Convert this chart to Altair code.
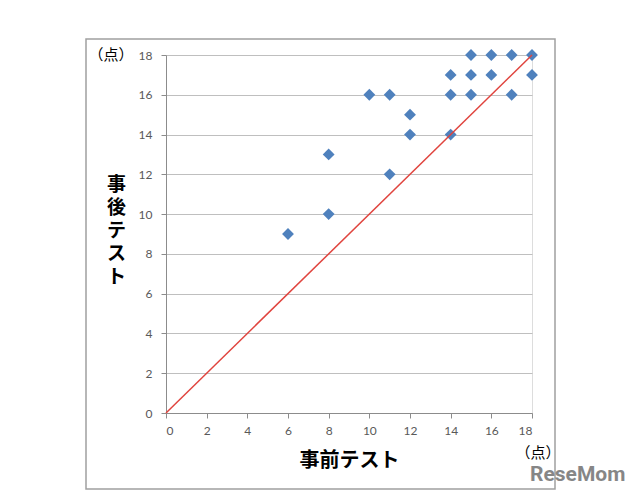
import altair as alt
import pandas as pd

# Data
pre_scores = [6, 8, 8, 10, 11, 11, 12, 12, 14, 14, 14, 15, 15, 15, 16, 16, 17, 17, 18, 18]
post_scores = [9, 13, 10, 16, 16, 12, 15, 14, 17, 16, 14, 18, 17, 16, 18, 17, 18, 16, 18, 17]
ref_line_x = [0, 18]
ref_line_y = [0, 18]
tick_values = [0, 2, 4, 6, 8, 10, 12, 14, 16, 18]

pts = pd.DataFrame({"pre": pre_scores, "post": post_scores})
line_df = pd.DataFrame({"pre": ref_line_x, "post": ref_line_y})

W, H = 366, 358
JP = "Noto Sans CJK JP"
LBL = "Lato"

xscale = alt.Scale(domain=[0, 18], nice=False, zero=True)
yscale = alt.Scale(domain=[0, 18], nice=False, zero=True)

x_axis = alt.Axis(
    values=tick_values, grid=False, domain=True, domainColor="#8c8c8c",
    ticks=True, tickColor="#8c8c8c", tickSize=5, labelOverlap=False,
    labelFont=LBL, labelFontSize=12, labelColor="#595959", labelPadding=7,
    title="事前テスト", titleFont=JP, titleFontSize=20, titleFontWeight="bold",
    titleColor="#000000", titleX=183, titleY=47, titleBaseline="middle",
    titleAlign="center", titleAnchor=None,
)
y_axis = alt.Axis(
    values=tick_values, grid=True, gridColor="#bfbfbf", gridWidth=1,
    domain=True, domainColor="#8c8c8c", labelOverlap=False,
    ticks=True, tickColor="#8c8c8c", tickSize=5,
    labelFont=LBL, labelFontSize=12, labelColor="#595959", labelPadding=9,
    title=["事", "後", "テ", "ス", "ト"], titleFont=JP, titleFontSize=19,
    titleFontWeight="bold", titleColor="#000000", titleAngle=0,
    titleX=-50, titleY=120, titleBaseline="top", titleAlign="center",
    titleLineHeight=23, titleAnchor=None,
)

points = alt.Chart(pts).mark_point(
    shape="diamond", filled=True, size=140, color="#4F81BD", opacity=1
).encode(
    x=alt.X("pre:Q", scale=xscale, axis=x_axis),
    y=alt.Y("post:Q", scale=yscale, axis=y_axis),
)

line = alt.Chart(line_df).mark_line(color="#E0443E", strokeWidth=1.5).encode(
    x=alt.X("pre:Q", scale=xscale, axis=x_axis),
    y=alt.Y("post:Q", scale=yscale, axis=y_axis),
)

frame = alt.Chart(pd.DataFrame({"a": [0]})).mark_rect(
    fill=None, stroke="#a0a0a0", strokeWidth=1.5, clip=False
).encode(
    x=alt.value(-80), x2=alt.value(389), y=alt.value(-16), y2=alt.value(434)
)

unit_top = alt.Chart(pd.DataFrame({"t": ["（点）"]})).mark_text(
    font=JP, fontSize=15, color="#000000", align="center", baseline="middle"
).encode(text="t:N", x=alt.value(-55), y=alt.value(0))

unit_bottom = alt.Chart(pd.DataFrame({"t": ["（点）"]})).mark_text(
    font=JP, fontSize=15, color="#000000", align="center", baseline="middle"
).encode(text="t:N", x=alt.value(372), y=alt.value(398))

watermark = alt.Chart(pd.DataFrame({"t": ["ReseMom"]})).mark_text(
    font="Roboto", fontSize=21, fontWeight="bold", color="#7a7a7a",
    align="left", baseline="middle", opacity=0.9
).encode(text="t:N", x=alt.value(364), y=alt.value(420))

chart = alt.layer(frame, points, line, unit_top, unit_bottom, watermark).properties(
    width=W, height=H,
    autosize=alt.AutoSizeParams(type="none"),
    padding={"left": 158, "top": 47, "right": 100, "bottom": 80},
).configure_view(stroke=None).configure(background="#ffffff")

chart.save("out.html", embed_options={"renderer": "svg", "actions": False})
